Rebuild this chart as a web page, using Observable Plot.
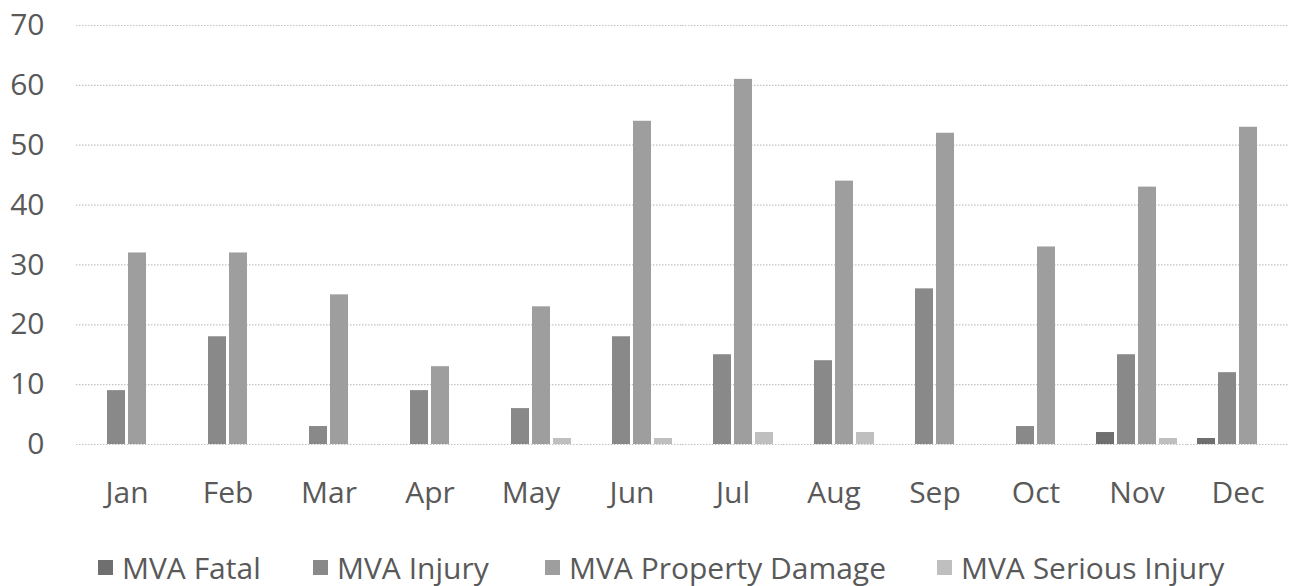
<!DOCTYPE html>
<html>
<head>
<meta charset="utf-8">
<script src="https://cdn.jsdelivr.net/npm/d3@7"></script>
<script src="https://cdn.jsdelivr.net/npm/@observablehq/plot@0.6"></script>
<style>
  html, body { margin: 0; padding: 0; background: #fff; overflow: hidden; }
  #wrap { width: 1289px; position: relative; font-family: "Open Sans", sans-serif; }
  #legend { position: relative; width: 1289px; height: 66px; color: #595959; font-size: 30px; }
  .item { position: absolute; top: 28px; height: 38px; display: flex; align-items: center; white-space: nowrap; }
  .sw { width: 15px; height: 15px; margin-right: 9px; }
</style>
</head>
<body>
<div id="wrap"></div>
<script>
const months = ["Jan", "Feb", "Mar", "Apr", "May", "Jun", "Jul", "Aug", "Sep", "Oct", "Nov", "Dec"];
const series = ["MVA Fatal", "MVA Injury", "MVA Property Damage", "MVA Serious Injury"];
const fatal    = [0, 0, 0, 0, 0, 0, 0, 0, 0, 0, 2, 1];
const injury   = [9, 18, 3, 9, 6, 18, 15, 14, 26, 3, 15, 12];
const property = [32, 32, 25, 13, 23, 54, 61, 44, 52, 33, 43, 53];
const serious  = [0, 0, 0, 0, 1, 1, 2, 2, 0, 0, 1, 0];
const yTicks = [0, 10, 20, 30, 40, 50, 60, 70];
const colors = ["#6f6f6f", "#898989", "#9e9e9e", "#bfbfbf"];
const legendLeft = [98, 313, 545, 937];

const values = [fatal, injury, property, serious];
const data = months.flatMap((m, i) => series.map((s, j) => ({month: m, series: s, value: values[j][i]})));

const chart = Plot.plot({
  width: 1289,
  height: 520,
  marginLeft: 75,
  marginRight: 0,
  marginTop: 25,
  marginBottom: 76,
  style: {fontFamily: "Open Sans, sans-serif", fontSize: "30px", color: "#595959", background: "#fff"},
  fx: {domain: months, paddingInner: 0, paddingOuter: 0, label: null, axis: "bottom", tickSize: 0, tickPadding: 37},
  x: {domain: series, axis: null, paddingInner: 0.12, paddingOuter: 0.4},
  y: {domain: [0, 70], ticks: yTicks, label: null, tickSize: 0, tickPadding: 32, tickFormat: d => String(d)},
  color: {domain: series, range: colors},
  marks: [
    Plot.ruleY(yTicks, {stroke: "#c2c2c2", strokeWidth: 1.2, strokeDasharray: "1.5,1.5"}),
    Plot.barY(data, {fx: "month", x: "series", y: "value", fill: "series"})
  ]
});
document.getElementById("wrap").appendChild(chart);

const legend = document.createElement("div");
legend.id = "legend";
series.forEach((s, j) => {
  const item = document.createElement("div");
  item.className = "item";
  item.style.left = legendLeft[j] + "px";
  const sw = document.createElement("span");
  sw.className = "sw";
  sw.style.background = colors[j];
  const tx = document.createElement("span");
  tx.textContent = s;
  item.appendChild(sw);
  item.appendChild(tx);
  legend.appendChild(item);
});
document.getElementById("wrap").appendChild(legend);
</script>
</body>
</html>
